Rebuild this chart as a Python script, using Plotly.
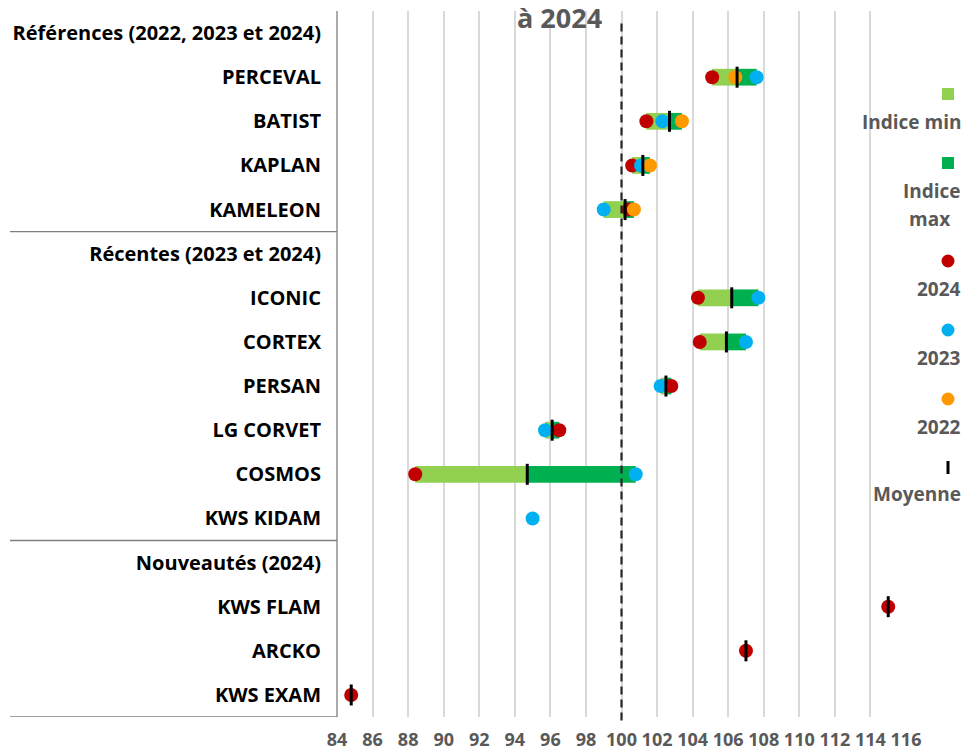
import plotly.graph_objects as go

# ---------------- data ----------------
labels = ["Références (2022, 2023 et 2024)", "PERCEVAL", "BATIST", "KAPLAN", "KAMELEON",
          "Récentes (2023 et 2024)", "ICONIC", "CORTEX", "PERSAN", "LG CORVET", "COSMOS", "KWS KIDAM",
          "Nouveautés (2024)", "KWS FLAM", "ARCKO", "KWS EXAM"]
v2024 = [None, 105.1, 101.4, 100.6, 100.4, None, 104.3, 104.4, 102.8, 96.5, 88.4, None, None, 115.0, 107.0, 84.8]
v2023 = [None, 107.6, 102.3, 101.1, 99.0, None, 107.7, 107.0, 102.2, 95.7, 100.8, 95.0, None, None, None, None]
v2022 = [None, 106.4, 103.4, 101.6, 100.7, None, None, None, None, None, None, None, None, None, None, None]
moyenne = [None, 106.5, 102.7, 101.2, 100.2, None, 106.2, 105.9, 102.5, 96.1, 94.7, None, None, 115.0, 107.0, 84.8]
x_ticks = list(range(84, 117, 2))
reference_value = 100
title_text = "à 2024"
legend_labels = ["Indice min", "Indice", "max", "2024", "2023", "2022", "Moyenne"]

rows = list(range(len(labels)))

# Indice min / max from the yearly values
ind_min, ind_max = [], []
for a, b, c in zip(v2024, v2023, v2022):
    vals = [v for v in (a, b, c) if v is not None]
    ind_min.append(min(vals) if vals else None)
    ind_max.append(max(vals) if vals else None)

light_len, light_base, dark_len, dark_base = [], [], [], []
for mn, mx, m in zip(ind_min, ind_max, moyenne):
    if mn is None or m is None:
        light_len.append(None); light_base.append(None); dark_len.append(None); dark_base.append(None)
    else:
        light_base.append(mn); light_len.append(m - mn)
        dark_base.append(m); dark_len.append(mx - m)

# ---------------- layout constants ----------------
W, H = 966, 753
ML = 337
MR = W - 906
MT = 11
MB = H - 717
PW = W - ML - MR
PH = H - MT - MB

def px_x(px):               # window pixel -> paper
    return (px - ML) / PW

def px_y(py):
    return (H - MB - py) / PH

C_LIGHT = "#92D050"
C_DARK = "#00B050"
C_2024 = "#C00000"
C_2023 = "#00B0F0"
C_2022 = "#FF9900"
GRAY_TXT = "#595959"
FONT = "Open Sans"

fig = go.Figure()

fig.add_trace(go.Bar(y=rows, x=light_len, base=light_base, orientation="h", width=0.38,
                     marker=dict(color=C_LIGHT, line=dict(width=0)), name="Indice min",
                     showlegend=False, hoverinfo="skip"))
fig.add_trace(go.Bar(y=rows, x=dark_len, base=dark_base, orientation="h", width=0.38,
                     marker=dict(color=C_DARK, line=dict(width=0)), name="Indice max",
                     showlegend=False, hoverinfo="skip"))

for vals, col, nm in ((v2024, C_2024, "2024"), (v2023, C_2023, "2023"), (v2022, C_2022, "2022")):
    fig.add_trace(go.Scatter(y=rows, x=vals, mode="markers", name=nm, showlegend=False,
                             marker=dict(color=col, size=14, line=dict(width=0))))

fig.add_trace(go.Scatter(y=rows, x=moyenne, mode="markers", name="Moyenne", showlegend=False,
                         marker=dict(symbol="line-ns", size=15, color="black",
                                     line=dict(width=3, color="black"))))

shapes = []
# dashed reference line
shapes.append(dict(type="line", xref="x", yref="paper", x0=reference_value, x1=reference_value,
                   y0=-0.005, y1=px_y(22), line=dict(color="#262626", width=2.2, dash="8px,5px"),
                   layer="above"))
# left category box lines
lx0 = px_x(10)
for yv in (-0.57, 4.5, 11.5, 15.5):
    shapes.append(dict(type="line", xref="paper", yref="y", x0=lx0, x1=0, y0=yv, y1=yv,
                       line=dict(color="#7F7F7F", width=1.3)))
shapes.append(dict(type="line", xref="paper", yref="y", x0=0, x1=0, y0=-0.57, y1=15.5,
                   line=dict(color="#7F7F7F", width=1.3)))

# legend background
shapes.append(dict(type="rect", xref="paper", yref="paper", x0=px_x(878), x1=px_x(966),
                   y0=px_y(520), y1=px_y(66), fillcolor="white", line=dict(width=0), layer="above"))

# legend markers
cx = 948
def sq(cy, col, s=12):
    return dict(type="rect", xref="paper", yref="paper", x0=px_x(cx - s / 2), x1=px_x(cx + s / 2),
                y0=px_y(cy + s / 2), y1=px_y(cy - s / 2), fillcolor=col, line=dict(width=0), layer="above")
def circ(cy, col, s=13):
    return dict(type="circle", xref="paper", yref="paper", x0=px_x(cx - s / 2), x1=px_x(cx + s / 2),
                y0=px_y(cy + s / 2), y1=px_y(cy - s / 2), fillcolor=col, line=dict(width=0), layer="above")
shapes += [sq(94, C_LIGHT), sq(163, C_DARK), circ(261, C_2024), circ(330, C_2023), circ(399, C_2022)]
shapes.append(dict(type="line", xref="paper", yref="paper", x0=px_x(cx), x1=px_x(cx),
                   y0=px_y(474), y1=px_y(461), line=dict(color="black", width=3), layer="above"))

annotations = []
def ltext(txt, px, py, anchor="right"):
    annotations.append(dict(text=txt, xref="paper", yref="paper", x=px_x(px), y=px_y(py),
                            xanchor=anchor, yanchor="middle", showarrow=False,
                            font=dict(family=FONT, size=19, color=GRAY_TXT, weight="bold")))
ltext(legend_labels[0], 963, 122)
ltext(legend_labels[1], 963, 191)
ltext(legend_labels[2], 907, 219, anchor="left")
ltext(legend_labels[3], 963, 289)
ltext(legend_labels[4], 963, 358)
ltext(legend_labels[5], 963, 427)
ltext(legend_labels[6], 963, 494)

annotations.append(dict(text=title_text, xref="paper", yref="paper", x=px_x(559), y=px_y(17),
                        xanchor="center", yanchor="middle", showarrow=False,
                        font=dict(family=FONT, size=27, color=GRAY_TXT, weight="bold")))

fig.update_layout(
    width=W, height=H,
    margin=dict(l=ML, r=MR, t=MT, b=MB, pad=0, autoexpand=False),
    paper_bgcolor="white", plot_bgcolor="white",
    barmode="overlay", showlegend=False,
    shapes=shapes, annotations=annotations,
    xaxis=dict(range=[84, 116], tickvals=x_ticks, ticktext=[str(t) for t in x_ticks],
               showgrid=True, gridcolor="#D9D9D9", gridwidth=1.5, zeroline=False, showline=False,
               ticks="outside", ticklen=6, tickcolor="rgba(0,0,0,0)", automargin=False,
               tickfont=dict(family=FONT, size=18, color=GRAY_TXT, weight="bold"),
               fixedrange=True),
    yaxis=dict(range=[15.5, -0.5], tickvals=rows, ticktext=labels, showgrid=False, zeroline=False,
               showline=False, ticks="outside", ticklen=11, tickcolor="rgba(0,0,0,0)", automargin=False,
               tickfont=dict(family=FONT, size=20, color="black", weight="bold"), fixedrange=True),
)

page_fix = ("document.documentElement.style.margin='0';document.body.style.margin='0';"
            "document.documentElement.style.overflow='hidden';document.body.style.overflow='hidden';")
fig.write_html("out.html", post_script=page_fix, config={"displayModeBar": False})
